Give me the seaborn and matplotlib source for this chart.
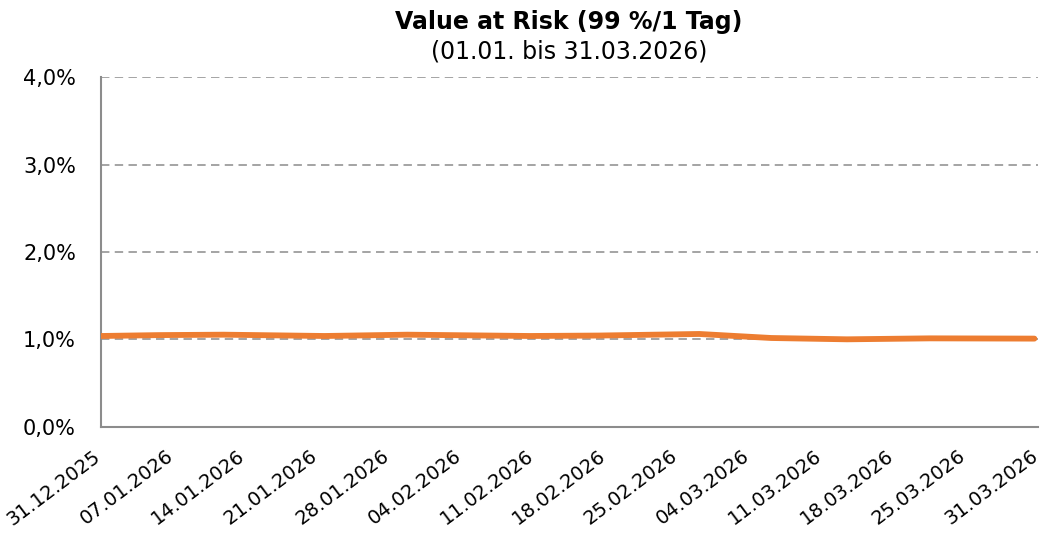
import numpy as np
import pandas as pd
import matplotlib
matplotlib.use("Agg")
import matplotlib.pyplot as plt
import matplotlib.transforms as mtransforms
import seaborn as sns
from matplotlib.ticker import FuncFormatter

# Stichtage der Achse (gleichmaessig verteilt)
tick_labels = ["31.12.2025", "07.01.2026", "14.01.2026", "21.01.2026", "28.01.2026",
               "04.02.2026", "11.02.2026", "18.02.2026", "25.02.2026", "04.03.2026",
               "11.03.2026", "18.03.2026", "25.03.2026", "31.03.2026"]

# Werte (Position in Wochen, VaR in %)
week_pos = [0.0, 0.8, 1.7, 3.1, 4.25, 5.95, 6.9, 8.3, 9.3, 10.35, 11.5, 12.95]
var_pct = [1.04, 1.05, 1.055, 1.04, 1.055, 1.04, 1.045, 1.063, 1.017, 1.002, 1.013, 1.01]

title_1 = "Value at Risk (99 %/1 Tag)"
title_2 = "(01.01. bis 31.03.2026)"

df = pd.DataFrame({"x": week_pos, "var": np.array(var_pct) / 100})

sns.set_style("white")
plt.rcParams["font.family"] = ["DejaVu Sans"]
plt.rcParams["text.color"] = "black"

fig = plt.figure(figsize=(10.43, 5.36), dpi=100)
ax = fig.add_axes([0.0968, 0.2034, 0.8984, 0.6529])

sns.lineplot(data=df, x="x", y="var", color="#ED7D31", linewidth=4.2,
             solid_capstyle="round", solid_joinstyle="round", ax=ax, zorder=3)

ax.set_xlim(0, len(tick_labels) - 1)
ax.set_ylim(0, 0.04)
ax.set_yticks([0, 0.01, 0.02, 0.03, 0.04])
ax.yaxis.set_major_formatter(FuncFormatter(lambda v, p: f"{v*100:.1f}%".replace(".", ",")))
ax.set_xticks(range(len(tick_labels)))
ax.set_xticklabels(tick_labels, rotation=37, ha="right", va="top",
                   rotation_mode="anchor", fontsize=14)
ax.tick_params(axis="y", labelsize=15, length=8, width=1.3, color="#8c8c8c",
               direction="out", pad=10, labelcolor="black")
ax.tick_params(axis="x", length=7, width=1.3, color="#8c8c8c", direction="in",
               pad=14, labelcolor="black")
ax.set_xlabel("")
ax.set_ylabel("")

# Beschriftung etwas nach links, damit sie wie im Original am Tick endet
shift = mtransforms.ScaledTranslation(-8 / 100, 0, fig.dpi_scale_trans)
for lbl in ax.get_xticklabels():
    lbl.set_transform(lbl.get_transform() + shift)

ax.grid(axis="y", color="#8c8c8c", linestyle=(0, (5.5, 3.5)), linewidth=1.1)
ax.grid(axis="x", visible=False)
for s in ["top", "right"]:
    ax.spines[s].set_visible(False)
for s in ["left", "bottom"]:
    ax.spines[s].set_color("#8c8c8c")
    ax.spines[s].set_linewidth(1.5)

fig.text(0.5455, 0.959, title_1, ha="center", va="center", fontsize=17, fontweight="bold")
fig.text(0.5455, 0.903, title_2, ha="center", va="center", fontsize=17)

fig.savefig("out.png", dpi=100)
